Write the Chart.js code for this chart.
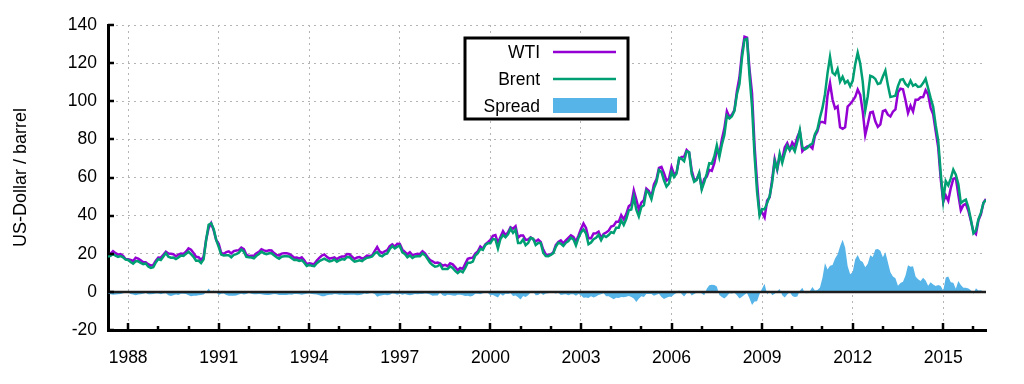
<!DOCTYPE html>
<html><head><meta charset="utf-8">
<script src="https://cdn.jsdelivr.net/npm/chart.js@4"></script>
<style>html,body{margin:0;padding:0;background:#fff}canvas{display:block}</style>
</head><body>
<canvas id="c" width="1024" height="384"></canvas>
<script>
// Monthly spot prices, US-Dollar / barrel, starting May 1987
const startYear = 1987, startMonth = 5;
const wti = [
  19.44, 20.07, 21.34, 20.31, 19.53, 19.86, 18.85, 17.28,
  17.13, 16.80, 16.20, 17.86, 17.42, 16.53, 15.50, 15.52, 14.54, 13.77, 14.14, 16.38,
  18.02, 17.94, 19.48, 21.07, 20.12, 20.05, 19.78, 18.58, 19.59, 20.10, 19.86, 21.10,
  22.86, 22.11, 20.39, 18.43, 18.20, 16.70, 18.45, 27.31, 33.51, 36.04, 32.33, 27.28,
  25.23, 20.48, 19.90, 20.83, 21.23, 20.19, 21.40, 21.69, 21.89, 23.23, 22.46, 19.50,
  18.79, 19.01, 18.92, 20.23, 20.98, 22.39, 21.78, 21.34, 21.88, 21.69, 20.34, 19.41,
  19.03, 20.09, 20.32, 20.25, 19.95, 19.09, 17.89, 18.01, 17.50, 18.15, 16.61, 14.52,
  15.03, 14.78, 14.68, 16.42, 17.89, 19.06, 19.65, 18.38, 17.45, 17.72, 18.07, 17.16,
  18.04, 18.57, 18.54, 19.90, 19.74, 18.45, 17.33, 18.02, 18.23, 17.43, 17.99, 19.03,
  18.85, 19.09, 21.33, 23.50, 21.17, 20.42, 21.30, 21.90, 23.97, 24.88, 23.71, 25.23,
  25.13, 22.18, 20.97, 19.70, 20.82, 19.26, 19.66, 19.95, 19.80, 21.33, 20.19, 18.33,
  16.72, 16.06, 15.12, 15.35, 14.91, 13.72, 14.17, 13.47, 15.03, 14.46, 13.00, 11.35,
  12.52, 12.01, 14.68, 17.31, 17.72, 17.92, 20.10, 21.28, 23.80, 22.69, 25.00, 26.10,
  27.26, 29.37, 29.84, 25.72, 28.79, 31.82, 29.70, 31.26, 33.88, 33.11, 34.42, 28.44,
  29.59, 29.61, 27.25, 27.49, 28.63, 27.60, 26.43, 27.37, 26.20, 22.17, 19.64, 19.39,
  19.72, 20.72, 24.53, 26.18, 27.04, 25.52, 26.97, 28.39, 29.66, 28.84, 26.35, 29.46,
  32.95, 35.83, 33.51, 28.17, 28.11, 30.66, 30.76, 31.57, 28.31, 30.34, 31.11, 32.13,
  34.31, 34.69, 36.74, 36.75, 40.28, 38.03, 40.78, 44.90, 45.94, 53.28, 48.47, 43.15,
  46.84, 48.15, 54.19, 52.98, 49.83, 56.35, 59.00, 64.99, 65.59, 62.26, 58.32, 59.41,
  65.49, 61.63, 62.69, 69.44, 70.84, 70.95, 74.41, 73.04, 63.80, 58.89, 59.08, 61.96,
  54.51, 59.28, 60.44, 63.98, 63.46, 67.49, 74.12, 72.36, 79.92, 85.80, 94.77, 91.69,
  92.97, 95.39, 105.45, 112.58, 125.40, 133.88, 133.37, 116.67, 104.11, 76.61, 57.31, 41.12,
  41.71, 39.09, 47.94, 49.65, 59.03, 69.64, 64.15, 71.05, 69.41, 75.72, 77.99, 74.47,
  78.33, 76.39, 81.20, 84.29, 73.74, 75.34, 76.32, 76.60, 75.24, 81.89, 84.25, 89.15,
  89.17, 88.58, 102.86, 109.53, 100.90, 96.26, 97.30, 86.33, 85.52, 86.32, 97.16, 98.56,
  100.27, 102.20, 106.16, 103.32, 94.66, 82.30, 87.90, 94.13, 94.51, 89.49, 86.53, 87.86,
  94.76, 95.31, 92.94, 92.02, 94.51, 95.77, 104.67, 106.57, 106.29, 100.54, 93.86, 97.63,
  94.62, 100.82, 100.80, 102.07, 102.18, 105.79, 103.59, 96.54, 93.21, 84.40, 75.79, 59.29,
  47.22, 50.58, 47.82, 54.45, 59.27, 59.82, 50.90, 42.87, 45.48, 46.22, 42.44, 37.19,
  31.68, 30.32, 37.55, 40.75, 46.71, 48.76
];
const brent = [
  18.58, 18.86, 19.86, 18.98, 18.31, 18.76, 18.14, 16.94,
  16.75, 15.71, 14.77, 16.05, 16.02, 15.26, 14.56, 14.92, 13.29, 12.56, 12.98, 15.47,
  17.23, 16.70, 18.59, 20.37, 18.41, 17.90, 17.96, 17.18, 18.00, 19.06, 18.82, 19.99,
  21.05, 19.80, 18.42, 16.34, 16.40, 15.08, 17.09, 27.17, 35.23, 36.02, 33.04, 27.27,
  23.57, 19.54, 19.08, 19.18, 19.19, 18.17, 19.40, 19.77, 20.50, 22.21, 21.11, 18.41,
  18.16, 18.05, 17.63, 18.92, 19.89, 21.16, 20.25, 19.74, 20.27, 20.26, 19.17, 18.16,
  17.42, 18.45, 18.63, 18.63, 18.53, 17.63, 16.72, 16.83, 16.23, 16.61, 15.33, 13.54,
  14.14, 13.65, 13.47, 15.04, 16.11, 16.73, 17.41, 16.66, 15.93, 16.25, 17.00, 15.86,
  16.58, 17.20, 16.95, 18.31, 18.21, 16.92, 15.87, 16.23, 16.61, 16.11, 17.19, 17.93,
  18.10, 18.54, 20.19, 20.88, 19.16, 18.65, 19.75, 20.19, 22.48, 24.00, 22.77, 23.74,
  24.13, 20.72, 19.87, 18.16, 19.11, 17.77, 18.55, 18.66, 18.67, 20.16, 19.30, 17.30,
  15.37, 14.07, 13.21, 13.48, 14.47, 12.01, 12.01, 11.97, 13.34, 12.58, 10.98, 9.82,
  11.06, 10.27, 12.51, 15.29, 15.23, 15.86, 19.08, 20.27, 22.52, 22.01, 24.58, 25.47,
  25.51, 27.78, 27.49, 22.76, 27.74, 29.80, 28.68, 30.20, 33.14, 30.96, 32.55, 25.66,
  25.62, 27.50, 24.50, 25.66, 28.31, 27.85, 24.61, 25.68, 25.62, 20.54, 18.80, 18.71,
  19.42, 20.28, 23.70, 25.73, 25.35, 24.08, 25.74, 26.65, 28.40, 27.54, 24.34, 28.33,
  31.18, 32.77, 30.61, 25.00, 25.86, 27.65, 28.35, 29.89, 27.11, 29.61, 28.75, 29.81,
  31.28, 30.86, 33.63, 33.59, 37.57, 35.18, 38.22, 42.74, 43.20, 49.78, 43.11, 39.60,
  44.51, 45.48, 53.10, 51.88, 48.65, 54.35, 57.52, 63.98, 62.91, 58.54, 55.24, 56.86,
  62.99, 60.21, 62.06, 70.26, 69.78, 68.56, 73.67, 73.23, 61.96, 57.81, 58.76, 62.47,
  53.68, 57.56, 62.05, 67.49, 67.21, 71.05, 76.93, 70.76, 77.17, 82.34, 92.41, 90.93,
  92.18, 94.99, 103.64, 109.07, 122.80, 132.32, 132.72, 113.24, 97.23, 71.58, 52.45, 39.95,
  43.44, 43.32, 46.54, 50.18, 57.30, 68.61, 64.44, 72.51, 67.65, 72.77, 76.66, 74.46,
  76.17, 73.75, 78.83, 84.82, 75.95, 74.76, 75.58, 77.04, 77.84, 82.67, 85.28, 91.45,
  96.52, 103.72, 114.64, 123.26, 114.99, 113.83, 116.97, 110.22, 112.83, 109.55, 110.77, 107.87,
  110.69, 119.33, 125.45, 119.75, 110.34, 95.16, 102.62, 113.36, 112.86, 111.71, 109.06, 109.49,
  112.96, 116.05, 108.47, 102.25, 102.56, 102.92, 107.93, 111.28, 111.60, 109.08, 107.79, 110.76,
  108.12, 108.90, 107.48, 107.76, 109.54, 111.80, 106.77, 101.61, 97.09, 87.43, 79.44, 62.34,
  47.76, 58.10, 55.89, 59.52, 64.08, 61.48, 56.56, 46.52, 47.62, 48.43, 44.27, 38.01,
  30.70, 32.18, 38.21, 41.58, 46.74, 48.25
];
const yTicks = [-20, 0, 20, 40, 60, 80, 100, 120, 140];
const xTickYears = [1988,1989,1990,1991,1992,1993,1994,1995,1996,1997,1998,1999,2000,2001,2002,
  2003,2004,2005,2006,2007,2008,2009,2010,2011,2012,2013,2014,2015,2016];
const xLabelYears = [1988, 1991, 1994, 1997, 2000, 2003, 2006, 2009, 2012, 2015];
const seriesNames = ['WTI', 'Brent', 'Spread'];
const yTitle = 'US-Dollar / barrel';

const COLORS = { wti: '#9400D3', brent: '#009E73', spread: '#56B4E9', zero: '#1e1e1e', grid: '#b4b4b4' };
const FONT = "'Liberation Sans', Arial, sans-serif";

// x position (decimal year) of each month, and spread = Brent - WTI
const months = wti.map((_, i) => startYear + (startMonth - 1 + i) / 12);
const spread = brent.map((b, i) => Math.round((b - wti[i]) * 100) / 100);
const pts = arr => months.map((x, i) => ({ x, y: arr[i] }));

Chart.defaults.font.family = FONT;
Chart.defaults.font.size = 17.5;
Chart.defaults.color = '#000';

const innerTicks = {
  id: 'innerTicks',
  afterDatasetsDraw(chart) {
    const { ctx, chartArea: a, scales: { x, y } } = chart;
    ctx.save();
    ctx.strokeStyle = '#000';
    ctx.lineWidth = 2.5;
    ctx.beginPath();
    yTicks.forEach(v => {
      const py = Math.round(y.getPixelForValue(v));
      ctx.moveTo(a.left, py); ctx.lineTo(a.left + 6, py);
    });
    xTickYears.forEach(v => {
      const px = Math.round(x.getPixelForValue(v));
      const len = xLabelYears.includes(v) ? 7 : 4;
      ctx.moveTo(px, a.bottom); ctx.lineTo(px, a.bottom - len);
    });
    ctx.stroke();
    ctx.restore();
  }
};

const boxLegend = {
  id: 'boxLegend',
  afterDraw(chart) {
    const ctx = chart.ctx;
    const bx = 465, by = 38, bw = 163, bh = 81;
    ctx.save();
    ctx.fillStyle = '#fff';
    ctx.fillRect(bx, by, bw, bh);
    ctx.strokeStyle = '#000';
    ctx.lineWidth = 3;
    ctx.strokeRect(bx, by, bw, bh);
    ctx.font = '17.5px ' + FONT;
    ctx.textAlign = 'right';
    ctx.textBaseline = 'middle';
    ctx.fillStyle = '#000';
    const rows = [52, 79, 106];
    seriesNames.forEach((n, i) => ctx.fillText(n, 540, rows[i] + 1));
    ctx.lineWidth = 2.5;
    ctx.strokeStyle = COLORS.wti;
    ctx.beginPath(); ctx.moveTo(553, rows[0]); ctx.lineTo(616, rows[0]); ctx.stroke();
    ctx.strokeStyle = COLORS.brent;
    ctx.beginPath(); ctx.moveTo(553, rows[1]); ctx.lineTo(616, rows[1]); ctx.stroke();
    ctx.fillStyle = COLORS.spread;
    ctx.fillRect(553, 98, 64, 15);
    ctx.restore();
  }
};

new Chart(document.getElementById('c'), {
  type: 'line',
  data: {
    datasets: [
      { label: 'Brent', data: pts(brent), borderColor: COLORS.brent, borderWidth: 2.5, pointRadius: 0, fill: false, order: 0 },
      { label: 'WTI', data: pts(wti), borderColor: COLORS.wti, borderWidth: 2.5, pointRadius: 0, fill: false, order: 1 },
      { label: 'zero', data: [{ x: months[0], y: 0 }, { x: months[months.length - 1], y: 0 }], borderColor: COLORS.zero, borderWidth: 2.5, pointRadius: 0, fill: false, order: 2 },
      { label: 'Spread', data: pts(spread), borderWidth: 0, borderColor: 'rgba(0,0,0,0)', backgroundColor: COLORS.spread, pointRadius: 0, fill: 'origin', order: 3 }
    ]
  },
  options: {
    responsive: false,
    animation: false,
    devicePixelRatio: 1,
    layout: { padding: { top: 25, right: 38, left: 0, bottom: 0 } },
    plugins: { legend: { display: false }, tooltip: { enabled: false } },
    scales: {
      x: {
        type: 'linear',
        min: months[0],
        max: months[months.length - 1],
        afterBuildTicks: s => { s.ticks = xTickYears.map(v => ({ value: v })); },
        afterFit: s => { s.height = 54; },
        ticks: { autoSkip: false, maxRotation: 0, padding: 18, callback: v => xLabelYears.includes(v) ? String(v) : '' },
        grid: { drawTicks: false, lineWidth: 1, color: c => (c.tick && xLabelYears.includes(c.tick.value)) ? COLORS.grid : 'rgba(0,0,0,0)' },
        border: { display: true, color: '#000', width: 3, dash: [2, 4] }
      },
      y: {
        min: -20, max: 140,
        afterBuildTicks: s => { s.ticks = yTicks.map(v => ({ value: v })); },
        afterFit: s => { s.width = 108; },
        ticks: { padding: 11 },
        grid: { drawTicks: false, lineWidth: 1, color: COLORS.grid },
        border: { display: true, color: '#000', width: 3, dash: [2, 4] },
        title: { display: true, text: yTitle, font: { size: 18 }, padding: { top: 10, bottom: 0 } }
      }
    }
  },
  plugins: [innerTicks, boxLegend]
});
</script>
</body></html>
